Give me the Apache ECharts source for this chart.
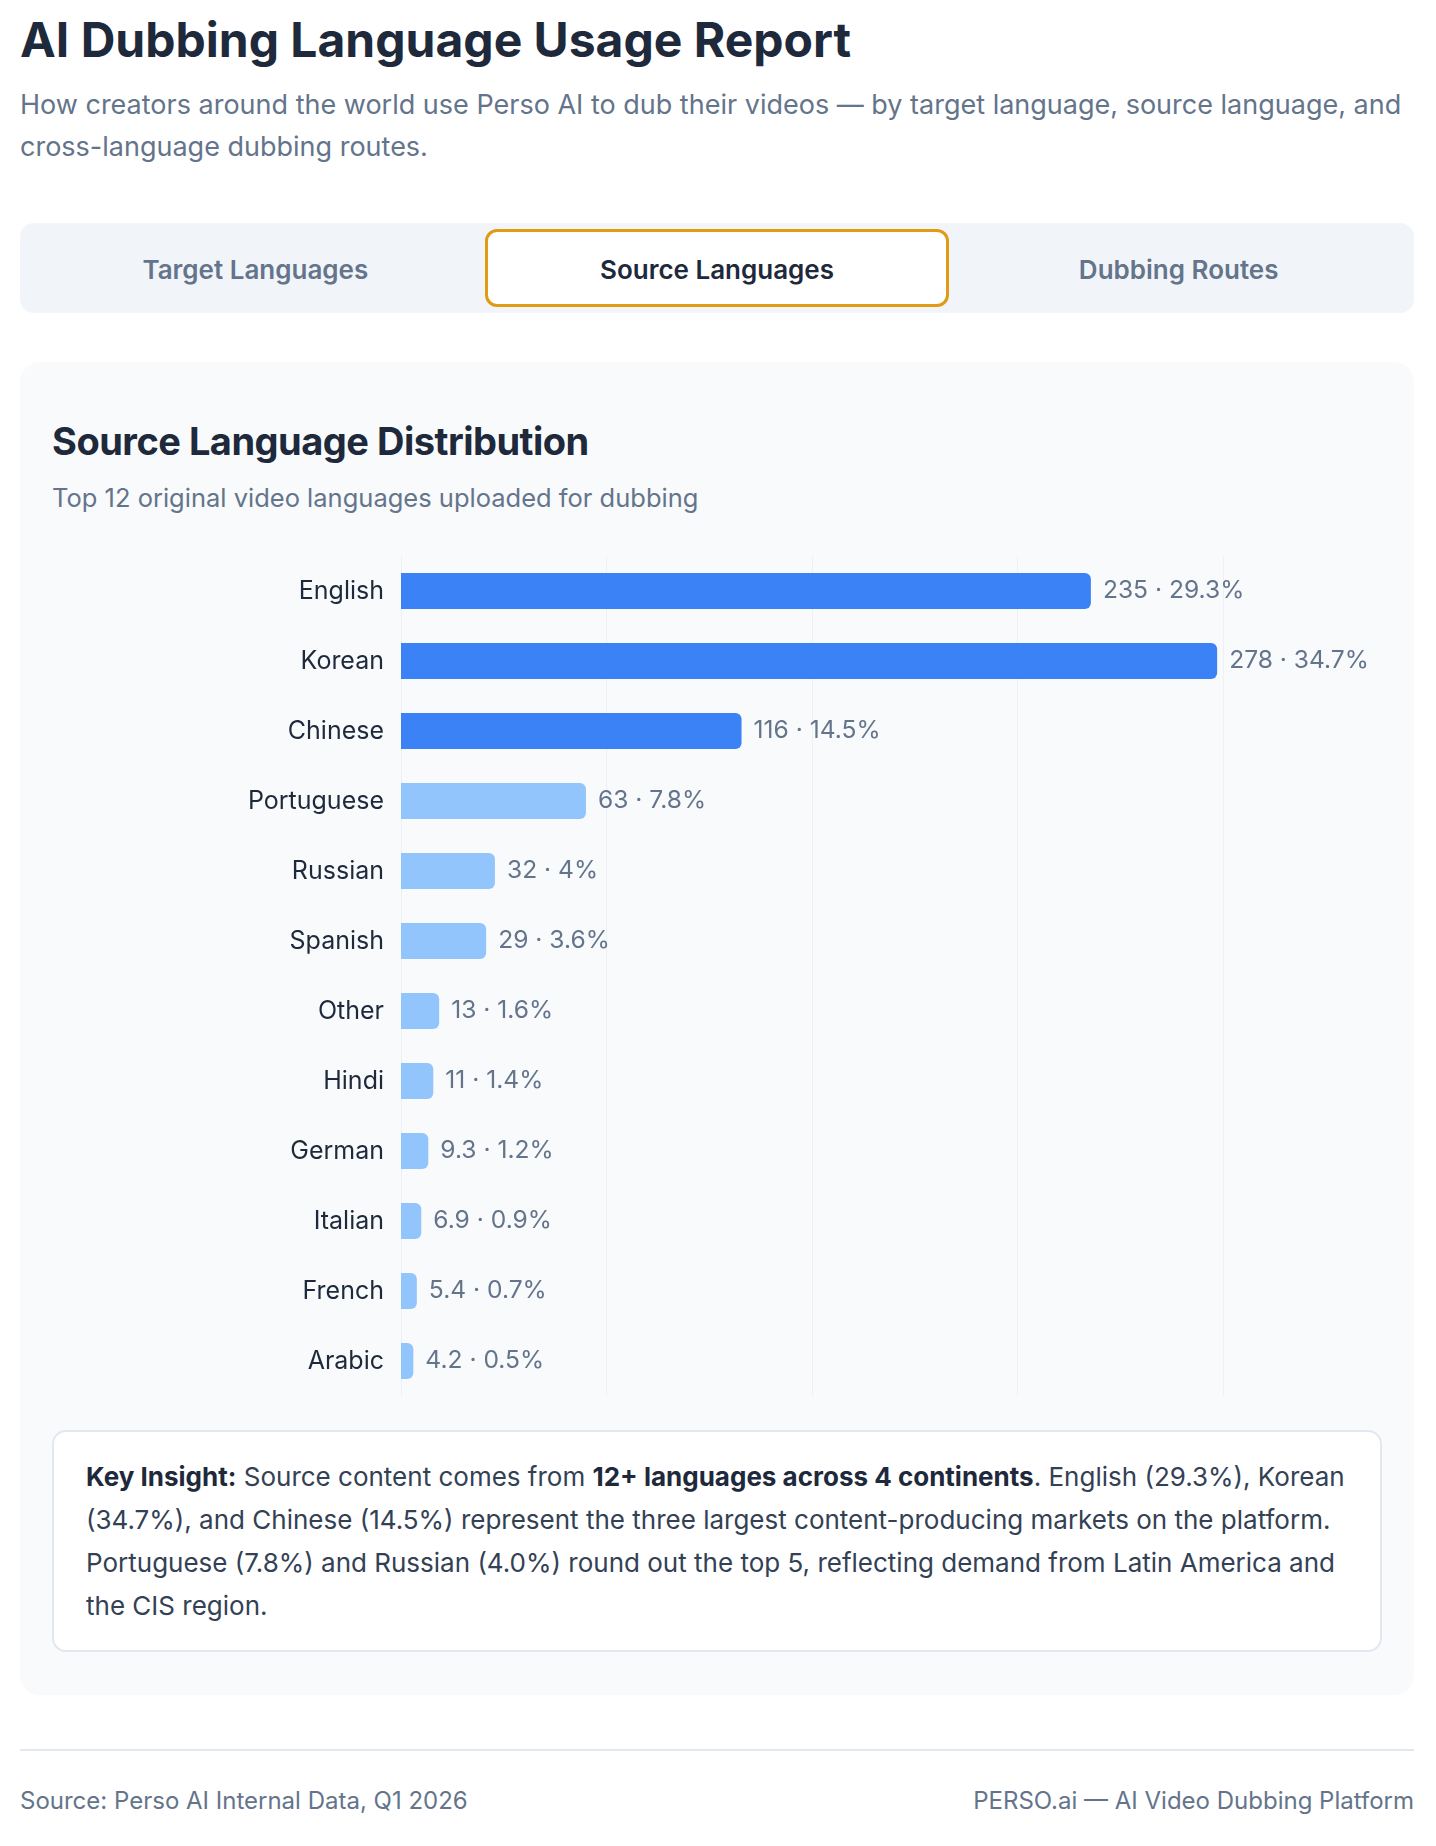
<!DOCTYPE html>
<html>
<head>
<meta charset="utf-8">
<script src="https://cdn.jsdelivr.net/npm/echarts@6/dist/echarts.min.js"></script>
<style>
  html, body { margin: 0; padding: 0; background: #ffffff; }
  body { width: 1436px; height: 1846px; position: relative; font-family: Inter, "Noto Sans", sans-serif; overflow: hidden; }
  .abs { position: absolute; }
  #title { left: 20px; top: 16px; font-size: 48px; line-height: 1; font-weight: 700; color: #1e293b; letter-spacing: 0px; white-space: nowrap; }
  #subtitle { left: 20px; top: 84px; font-size: 27px; line-height: 42px; color: #64748b; white-space: nowrap; }
  #tabs { left: 20px; top: 223px; width: 1394px; height: 90px; background: #f1f5f9; border-radius: 14px; box-sizing: border-box; padding: 6px; display: flex; }
  .tab { flex: 1; display: flex; align-items: center; justify-content: center; font-size: 26px; font-weight: 600; color: #64748b; border-radius: 12px; box-sizing: border-box; padding-top: 2px; }
  .tab.active { background: #ffffff; border: 3px solid #e09a14; color: #1e293b; }
  #card { left: 20px; top: 362px; width: 1394px; height: 1333px; background: #f8fafc; border-radius: 20px; }
  #cardTitle { left: 52px; top: 422px; font-size: 38px; line-height: 1; font-weight: 700; color: #1e293b; letter-spacing: -0.5px; white-space: nowrap; }
  #cardSub { left: 52px; top: 485px; font-size: 25.5px; line-height: 1; color: #64748b; white-space: nowrap; }
  #chart { left: 0px; top: 541px; width: 1436px; height: 880px; }
  #insight { left: 52px; top: 1430px; width: 1330px; height: 222px; box-sizing: border-box; border: 2px solid #e2e8f0; border-radius: 14px; background: #ffffff; padding: 23px 32px; font-size: 26px; line-height: 43px; color: #334155; white-space: nowrap; }
  #insight b { color: #1e293b; font-weight: 700; }
  #divider { left: 20px; top: 1749px; width: 1394px; height: 2px; background: #e2e8f0; }
  #footL { left: 20px; top: 1789px; font-size: 24px; line-height: 1; color: #64748b; white-space: nowrap; }
  #footR { right: 22px; top: 1789px; font-size: 24px; line-height: 1; color: #64748b; white-space: nowrap; }
</style>
</head>
<body>
<div id="title" class="abs">AI Dubbing Language Usage Report</div>
<div id="subtitle" class="abs">How creators around the world use Perso AI to dub their videos — by target language, source language, and<br>cross-language dubbing routes.</div>
<div id="tabs" class="abs">
  <div class="tab">Target Languages</div>
  <div class="tab active">Source Languages</div>
  <div class="tab">Dubbing Routes</div>
</div>
<div id="card" class="abs"></div>
<div id="cardTitle" class="abs">Source Language Distribution</div>
<div id="cardSub" class="abs">Top 12 original video languages uploaded for dubbing</div>
<div id="chart" class="abs"></div>
<div id="insight" class="abs"><b>Key Insight:</b> Source content comes from <b>12+ languages across 4 continents</b>. English (29.3%), Korean<br>(34.7%), and Chinese (14.5%) represent the three largest content-producing markets on the platform.<br>Portuguese (7.8%) and Russian (4.0%) round out the top 5, reflecting demand from Latin America and<br>the CIS region.</div>
<div id="divider" class="abs"></div>
<div id="footL" class="abs">Source: Perso AI Internal Data, Q1 2026</div>
<div id="footR" class="abs">PERSO.ai — AI Video Dubbing Platform</div>
<script>
// ---- data ----
const languages = ['English', 'Korean', 'Chinese', 'Portuguese', 'Russian', 'Spanish', 'Other', 'Hindi', 'German', 'Italian', 'French', 'Arabic'];
const uploads = [235, 278, 116, 63, 32, 29, 13, 11, 9.3, 6.9, 5.4, 4.2];
const shares = [29.3, 34.7, 14.5, 7.8, 4, 3.6, 1.6, 1.4, 1.2, 0.9, 0.7, 0.5];
const topLanguages = ['English', 'Korean', 'Chinese'];

const chart = echarts.init(document.getElementById('chart'), null, { renderer: 'canvas' });
const seriesData = uploads.map((v, i) => ({
  value: v,
  itemStyle: { color: topLanguages.includes(languages[i]) ? '#3b82f6' : '#93c5fd' }
}));
chart.setOption({
  animation: false,
  textStyle: { fontFamily: 'Inter' },
  grid: { left: 401, top: 15, width: 822, height: 840, containLabel: false },
  xAxis: {
    type: 'value', min: 0, max: 280, interval: 70,
    axisLabel: { show: false }, axisLine: { show: false }, axisTick: { show: false },
    splitLine: { show: true, lineStyle: { color: '#edf1f5', width: 1 } }
  },
  yAxis: {
    type: 'category', data: languages, inverse: true,
    axisLine: { show: true, lineStyle: { color: '#edf1f5' } },
    axisTick: { show: false },
    axisLabel: { color: '#1e293b', fontSize: 25, margin: 17, fontFamily: 'Inter', padding: [7, 0, 0, 0] }
  },
  series: [{
    type: 'bar', data: seriesData, barWidth: 36,
    itemStyle: { borderRadius: [0, 6, 6, 0] },
    label: {
      show: true, position: 'right', distance: 12, color: '#64748b', fontSize: 24.6, fontFamily: 'Inter',
      padding: [6, 0, 0, 0],
      formatter: p => uploads[p.dataIndex] + ' · ' + shares[p.dataIndex] + '%'
    }
  }]
});
</script>
</body>
</html>
